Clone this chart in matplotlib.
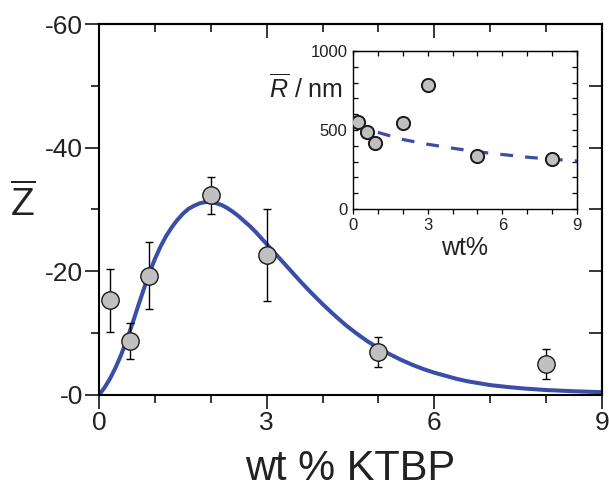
import numpy as np
import matplotlib
matplotlib.use("Agg")
import matplotlib.pyplot as plt
from matplotlib.ticker import MultipleLocator

plt.rcParams['font.family'] = ['Liberation Sans', 'DejaVu Sans']
plt.rcParams['mathtext.fontset'] = 'custom'
plt.rcParams['mathtext.rm'] = 'Liberation Sans'
plt.rcParams['mathtext.it'] = 'Liberation Sans:italic'

# measured zeta potential vs wt %
wt = [0.2, 0.55, 0.9, 2.0, 3.0, 5.0, 8.0]
zeta = [-15.3, -8.7, -19.3, -32.3, -22.6, -7.0, -5.0]
zeta_err = [5.1, 2.9, 5.4, 3.0, 7.4, 2.4, 2.4]

# fitted curve
fit_x = [0.0, 0.1, 0.2, 0.3, 0.4, 0.5, 0.6, 0.7, 0.8, 0.9, 1.0, 1.1, 1.2, 1.3,
         1.4, 1.5, 1.6, 1.7, 1.8, 1.9, 2.0, 2.1, 2.2, 2.3, 2.4, 2.5, 2.6, 2.7,
         2.8, 2.9, 3.0, 3.1, 3.2, 3.3, 3.4, 3.6, 3.8, 4.0, 4.2, 4.4, 4.6, 4.8,
         5.0, 5.2, 5.4, 5.6, 5.8, 6.0, 6.2, 6.4, 6.6, 6.8, 7.0, 7.3, 7.6, 8.0,
         8.5, 9.0]
fit_y = [0.0, -1.2, -2.7, -4.5, -6.6, -9.0, -11.6, -14.4, -17.1, -19.7, -22.0,
         -24.0, -25.7, -27.1, -28.3, -29.3, -30.1, -30.6, -31.0, -31.2, -31.2,
         -31.0, -30.7, -30.2, -29.6, -28.9, -28.1, -27.3, -26.4, -25.4, -24.4,
         -23.4, -22.4, -21.4, -20.4, -18.4, -16.5, -14.7, -13.0, -11.4, -10.0,
         -8.7, -7.6, -6.6, -5.7, -4.9, -4.2, -3.6, -3.1, -2.6, -2.2, -1.9, -1.6,
         -1.3, -1.05, -0.8, -0.6, -0.45]

# inset: mean radius
radius = [550, 490, 415, 542, 787, 338, 316]
rfit_x = [1.0, 2.0, 3.0, 4.0, 5.0, 6.0, 7.0, 8.0, 9.0]
rfit_y = [485, 440, 410, 385, 362, 345, 328, 315, 304]

blue = '#3a4ea8'
txt = '#222222'

fig = plt.figure(figsize=(6.09, 4.92), dpi=100)
ax = fig.add_axes([0.1626, 0.1972, 0.826, 0.754])

ax.plot(fit_x, fit_y, color=blue, lw=2.9, zorder=2, solid_joinstyle='round')
ax.errorbar(wt, zeta, yerr=zeta_err, fmt='none', ecolor='black', elinewidth=1.0,
            capsize=2.7, capthick=1.0, zorder=3)
ax.plot(wt, zeta, 'o', ms=12.5, mfc='#c0c0c0', mec='#1a1a1a', mew=1.0, zorder=4)

ax.set_xlim(0, 9)
ax.set_ylim(0, -60)
ax.set_xticks([0, 3, 6, 9])
ax.xaxis.set_minor_locator(MultipleLocator(1))
ax.set_yticks([-60, -40, -20, 0], ['-60', '-40', '-20', '-0'])
ax.yaxis.set_minor_locator(MultipleLocator(10))
ax.tick_params(which='both', direction='out', width=1.1, labelsize=19,
               colors='black', labelcolor=txt, pad=1.5)
ax.tick_params(which='major', length=10)
ax.tick_params(which='minor', length=5.5)
for s in ax.spines.values():
    s.set_linewidth(1.5)

top = ax.secondary_xaxis('top')
top.set_xticks([0, 3, 6, 9], [])
top.xaxis.set_minor_locator(MultipleLocator(1))
top.tick_params(which='both', direction='in', width=1.1)
top.tick_params(which='major', length=10)
top.tick_params(which='minor', length=5.5)
top.spines['top'].set_linewidth(1.5)

right = ax.secondary_yaxis('right')
right.set_yticks([-60, -40, -20, 0], [])
right.yaxis.set_minor_locator(MultipleLocator(10))
right.tick_params(which='both', direction='in', width=1.1, length=9.5)
right.spines['right'].set_linewidth(1.5)

ax.set_xlabel('wt % KTBP', fontsize=30, color=txt, labelpad=10)
ax.set_ylabel(r'$\overline{\mathrm{Z}}$', fontsize=28, rotation=0, color=txt,
              ha='center', va='center')
ax.yaxis.set_label_coords(-0.152, 0.515)

# inset
ins = fig.add_axes([0.5796, 0.5752, 0.3678, 0.3211])
ins.plot(rfit_x, rfit_y, color=blue, lw=2.3, dashes=(4.0, 3.8), zorder=2)
ins.plot(wt, radius, 'o', ms=9.5, mfc='#c0c0c0', mec='#1a1a1a', mew=1.4, zorder=3)
ins.set_xlim(0, 9)
ins.set_ylim(0, 1000)
ins.set_xticks([0, 3, 6, 9])
ins.xaxis.set_minor_locator(MultipleLocator(1))
ins.set_yticks([0, 500, 1000])
ins.yaxis.set_minor_locator(MultipleLocator(100))
ins.tick_params(axis='x', which='both', direction='out', length=3.5, width=0.9,
                labelsize=12, labelcolor=txt, pad=3)
ins.tick_params(axis='y', which='both', direction='in', length=3.5, width=0.9,
                labelsize=12, labelcolor=txt, pad=4)
for s in ins.spines.values():
    s.set_linewidth(1.0)
itop = ins.secondary_xaxis('top')
itop.set_xticks([0, 3, 6, 9], [])
itop.xaxis.set_minor_locator(MultipleLocator(1))
itop.tick_params(which='both', direction='in', length=3.5, width=0.9)
iright = ins.secondary_yaxis('right')
iright.set_yticks([0, 500, 1000], [])
iright.yaxis.set_minor_locator(MultipleLocator(100))
iright.tick_params(which='both', direction='in', length=3.5, width=0.9)

ins.set_xlabel('wt%', fontsize=18, color=txt, labelpad=2)
fig.text(0.502, 0.82, r'$\overline{R}$ / nm', fontsize=18, color=txt,
         ha='center', va='center')

fig.savefig('out.png', dpi=100)
